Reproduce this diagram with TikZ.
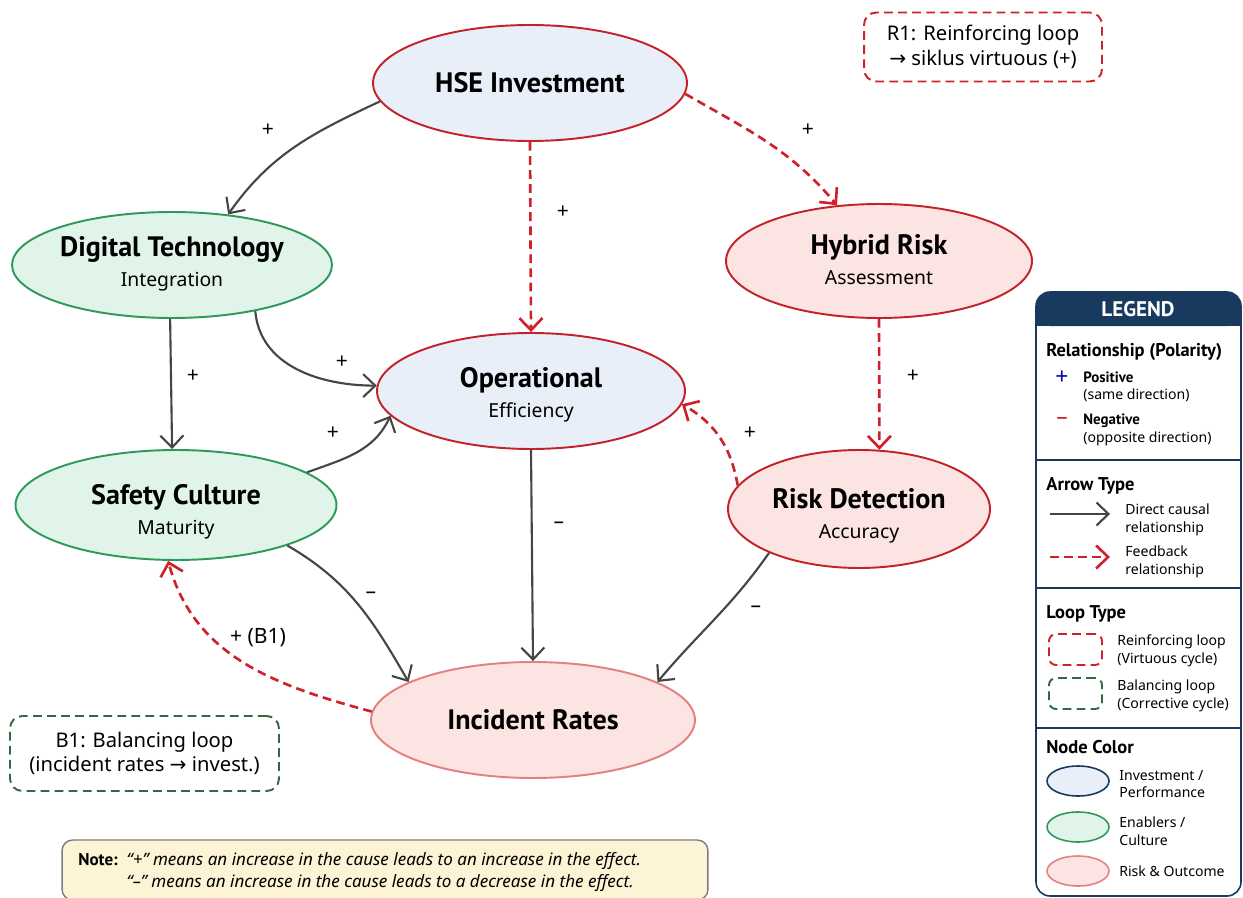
\documentclass[tikz,border=0pt]{standalone}
\usepackage{fontspec}
\setmainfont{Noto Sans}
\newfontfamily\headfont{PT Sans}
\newfontfamily\symfont{DejaVu Sans}
\usetikzlibrary{arrows.meta, shapes.geometric}

\definecolor{invfill}{HTML}{E8EFF9}
\definecolor{enfill}{HTML}{E1F4EA}
\definecolor{enline}{HTML}{2E9A5A}
\definecolor{rkfill}{HTML}{FCE4E2}
\definecolor{rkline}{HTML}{C42229}
\definecolor{incline}{HTML}{E58080}
\definecolor{fbred}{HTML}{D0202A}
\definecolor{arrgray}{HTML}{454545}
\definecolor{navy}{HTML}{173A5E}
\definecolor{loopgreen}{HTML}{2F6B3F}
\definecolor{notefill}{HTML}{FDF4D6}

\newcommand{\vname}[3][0pt]{\raisebox{-#1}[\height][\depth]{\begin{tabular}{@{}c@{}}{\headfont\bfseries\fontsize{16}{18}\selectfont #2}\\[5pt]{\fontsize{11}{13}\selectfont #3}\end{tabular}}}
\newcommand{\hb}[1]{{\headfont\bfseries #1}}
\newcommand{\rarr}{{\symfont →}}

\tikzset{
  var/.style={ellipse, line width=1.1pt, inner sep=0pt, align=center},
  causal/.style={draw=arrgray, line width=1.2pt, -{Straight Barb[length=2.4mm, width=4.6mm]}},
  feedback/.style={draw=fbred, line width=1.5pt, dash pattern=on 5pt off 3pt,
    -{Straight Barb[length=2.4mm, width=4.6mm]}},
  lbl/.style={font=\fontsize{12}{14}\selectfont},
  loopbox/.style={rounded corners=7pt, line width=1.1pt, dash pattern=on 5pt off 3pt,
    align=center, font=\fontsize{11.5}{14}\selectfont},
  lhead/.style={anchor=base west, inner sep=0pt, font=\headfont\bfseries\fontsize{10.5}{13}\selectfont},
  ltext/.style={anchor=west, inner sep=0pt, align=left, font=\fontsize{8}{10}\selectfont},
}

\begin{document}
\begin{tikzpicture}[x=0.02cm, y=-0.02cm]
      \useasboundingbox (0, 0) rectangle (1243, 898);
      \fill[white] (0, 0) rectangle (1243, 898);

      \node[var, draw=rkline, fill=invfill, minimum width=6.28cm, minimum height=2.32cm] (hse) at (530, 83) {{\headfont\bfseries\fontsize{16}{18}\selectfont HSE Investment}};
      \node[var, draw=enline, fill=enfill, minimum width=6.4cm, minimum height=2.12cm] (dig) at (172, 265) {\vname{Digital Technology}{Integration}};
      \node[var, draw=rkline, fill=rkfill, minimum width=6.12cm, minimum height=2.28cm] (hyb) at (879, 261) {\vname[1pt]{Hybrid Risk}{Assessment}};
      \node[var, draw=rkline, fill=invfill, minimum width=6.16cm, minimum height=2.32cm] (op) at (531, 391) {\vname[2.8pt]{Operational}{Efficiency}};
      \node[var, draw=enline, fill=enfill, minimum width=6.42cm, minimum height=2.2cm] (saf) at (176, 505) {\vname[4.3pt]{Safety Culture}{Maturity}};
      \node[var, draw=rkline, fill=rkfill, minimum width=5.24cm, minimum height=2.36cm] (rd) at (859, 509) {\vname[4.5pt]{Risk Detection}{Accuracy}};
      \node[var, draw=incline, fill=rkfill, minimum width=6.48cm, minimum height=2.32cm] (inc) at (533, 720) {{\headfont\bfseries\fontsize{16}{18}\selectfont Incident Rates}};

      \draw[causal] (hse.187) to[out=205, in=55] (dig.42);
      \draw[feedback] (hse.south) -- (op.north);
      \draw[feedback] (hse.-4) to[out=-30, in=130] (hyb.127);
      \draw[causal] (dig.268) -- (saf.94);
      \draw[causal] (dig.-29) to[out=-85, in=180] (op.178);
      \draw[causal] (saf.14) to[out=20, in=-115] (op.190);
      \draw[feedback] (hyb.south) -- (rd.71);
      \draw[feedback] (rd.169) to[out=100, in=-30] (op.-5);
      \draw[causal] (op.south) -- (inc.north);
      \draw[causal] (saf.-20) to[out=-30, in=120] (inc.163);
      \draw[causal] (rd.206) to[out=235, in=50] (inc.17);
      \draw[feedback] (inc.177) to[out=165, in=-75] (saf.-98);

      \foreach \x/\y/\t [count=\i] in {268/130/+, 563/212/+, 808/130/+, 193/376/+, 342/362/+,
          333/433/+, 913/376/+, 750/433/+, 559/525/–, 371/595/–, 756/609/–, 258/638/{+ (B1)}} {
        \node[lbl] (l\i) at (\x, \y) {\t};
      }

      \node[loopbox, draw=fbred, minimum width=4.76cm, minimum height=1.38cm] (r1) at (983, 47)
        {R1: Reinforcing loop\\\rarr\ siklus virtuous (+)};
      \node[loopbox, draw=loopgreen, minimum width=5.38cm, minimum height=1.5cm] (b1) at (144.5, 753.5)
        {B1: Balancing loop\\(incident rates \rarr\ invest.)};

      \node[draw=arrgray!70, fill=notefill, rounded corners=6pt, line width=0.8pt,
        minimum width=12.92cm, minimum height=1.2cm] (note) at (385, 870) {};
      \node[anchor=west, inner sep=0pt, font=\fontsize{9.7}{13}\selectfont] (notetxt) at (78, 872)
        {\begin{tabular}{@{}l@{\ \ }l@{}}\hb{Note:} & \textit{“+” means an increase in the cause leads to an increase in the effect.}\\
         & \textit{“–” means an increase in the cause leads to a decrease in the effect.}\end{tabular}};

      % legend
      \fill[white] (1036, 292) rectangle (1241, 896);
      \fill[navy, rounded corners=8pt] (1036, 292) rectangle (1241, 326);
      \fill[navy] (1036, 312) rectangle (1241, 326);
      \draw[navy, line width=0.9pt, rounded corners=8pt] (1036, 292) rectangle (1241, 896);
      \foreach \y in {460, 588, 728} {
        \draw[navy, line width=0.7pt] (1036, \y) -- (1241, \y);
      }
      \node[font=\headfont\bfseries\fontsize{12}{14}\selectfont, text=white] (lgd) at (1138, 309) {LEGEND};

      \node[lhead] (h1) at (1046, 357) {Relationship (Polarity)};
      \node[text=blue!70!black, font=\bfseries\fontsize{13}{14}\selectfont] (kp) at (1062, 378) {+};
      \node[ltext] (tp) at (1083, 387) {\hb{\fontsize{8.5}{10}\selectfont Positive}\\(same direction)};
      \node[text=fbred, font=\bfseries\fontsize{13}{14}\selectfont] (kn) at (1062, 421) {–};
      \node[ltext] (tn) at (1083, 430) {\hb{\fontsize{8.5}{10}\selectfont Negative}\\(opposite direction)};

      \node[lhead] (h2) at (1046, 490) {Arrow Type};
      \coordinate (a1) at (1050, 514);
      \coordinate (a2) at (1110, 514);
      \draw[causal] (a1) -- (a2);
      \coordinate (a3) at (1050, 557);
      \coordinate (a4) at (1110, 557);
      \draw[feedback] (a3) -- (a4);
      \node[ltext] (ta1) at (1125, 520) {Direct causal\\relationship};
      \node[ltext] (ta2) at (1125, 562) {Feedback\\relationship};

      \node[lhead] (h3) at (1046, 618) {Loop Type};
      \node[loopbox, draw=fbred, rounded corners=4pt, minimum width=1.06cm, minimum height=0.62cm] (kr) at (1075.5, 649.5) {};
      \node[loopbox, draw=loopgreen, rounded corners=4pt, minimum width=1.06cm, minimum height=0.62cm] (kb) at (1075.5, 693.5) {};
      \node[ltext] (tr) at (1117, 651) {Reinforcing loop\\(Virtuous cycle)};
      \node[ltext] (tb) at (1117, 696) {Balancing loop\\(Corrective cycle)};

      \node[lhead] (h4) at (1046, 753) {Node Color};
      \node[ellipse, draw=navy, fill=invfill, line width=0.9pt, minimum width=1.24cm, minimum height=0.6cm] (ki) at (1078, 781) {};
      \node[ellipse, draw=enline, fill=enfill, line width=0.9pt, minimum width=1.24cm, minimum height=0.6cm] (ke) at (1078, 827) {};
      \node[ellipse, draw=incline, fill=rkfill, line width=0.9pt, minimum width=1.24cm, minimum height=0.6cm] (kk) at (1078, 871) {};
      \node[ltext] (ti) at (1119, 784) {Investment /\\Performance};
      \node[ltext] (te) at (1119, 831) {Enablers /\\Culture};
      \node[ltext] (tk) at (1119, 871) {Risk \& Outcome};
    \end{tikzpicture}
\end{document}
